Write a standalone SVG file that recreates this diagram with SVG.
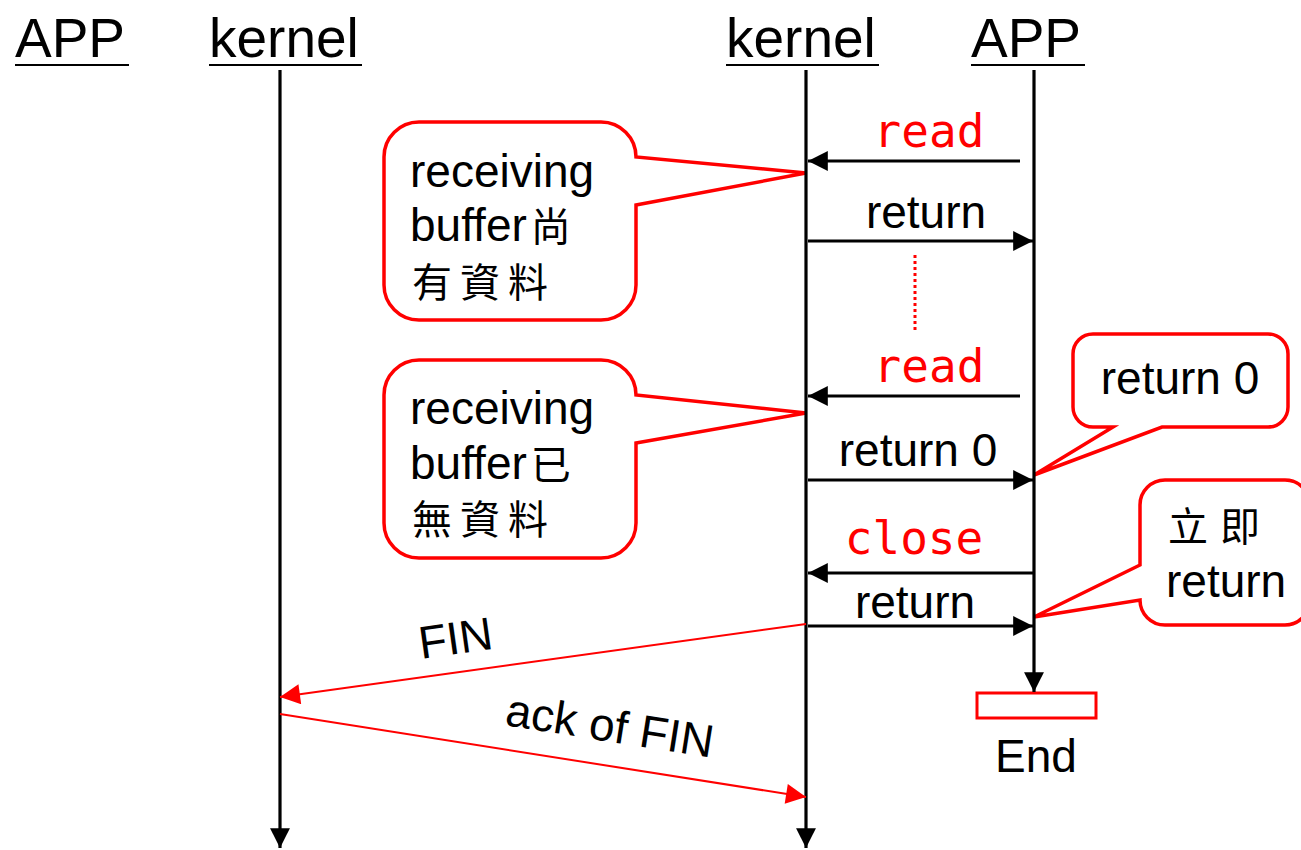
<svg xmlns="http://www.w3.org/2000/svg" width="1301" height="850" viewBox="0 0 1301 850">
  <style>
    .t { font-family: "Liberation Sans", Arial, sans-serif; fill: #000; }
    .hd { font-size: 55px; }
    .lb { font-size: 46px; }
    .cjk { font-family: "Noto Sans CJK TC", "Noto Sans CJK SC", sans-serif; font-size: 40px; fill: #000; }
    .mono { font-family: "DejaVu Sans Mono", "Liberation Mono", monospace; font-size: 46px; fill: #ff0000; }
    .life { stroke: #000; stroke-width: 3.2; fill: none; }
    .msg { stroke: #000; stroke-width: 3.2; fill: none; }
    .red { stroke: #ff0000; stroke-width: 2; fill: none; }
    .bubble { fill: #fff; stroke: #ff0000; stroke-width: 3.5; stroke-linejoin: miter; }
  </style>
  <defs>
    <marker id="ab" viewBox="0 0 10 10" refX="10" refY="5" markerWidth="7.5" markerHeight="6.2" markerUnits="strokeWidth" orient="auto">
      <path d="M0,0 L10,5 L0,10 Z" fill="#000"/>
    </marker>
    <marker id="ar" viewBox="0 0 10 10" refX="10" refY="5" markerWidth="11" markerHeight="10" markerUnits="strokeWidth" orient="auto">
      <path d="M0,0 L10,5 L0,10 Z" fill="#ff0000"/>
    </marker>
  </defs>

  <!-- participant headers -->
  <g id="app-left">
    <text class="t hd" x="15" y="57">APP</text>
    <line x1="15" y1="65" x2="129" y2="65" stroke="#000" stroke-width="2"/>
  </g>
  <g id="kernel-left">
    <text class="t hd" x="209" y="57">kernel</text>
    <line x1="209" y1="65" x2="362" y2="65" stroke="#000" stroke-width="2"/>
  </g>
  <g id="kernel-right">
    <text class="t hd" x="726" y="57">kernel</text>
    <line x1="726" y1="65" x2="879" y2="65" stroke="#000" stroke-width="2"/>
  </g>
  <g id="app-right">
    <text class="t hd" x="971" y="57">APP</text>
    <line x1="971" y1="65" x2="1085" y2="65" stroke="#000" stroke-width="2"/>
  </g>

  <!-- end marker of the right APP -->
  <g id="end">
    <rect x="977" y="693" width="119" height="25" fill="#fff" stroke="#ff0000" stroke-width="3"/>
    <text class="t lb" x="1036" y="772" text-anchor="middle">End</text>
  </g>

  <!-- callouts -->
  <g id="note-has-data">
    <path class="bubble" d="M419,122 H601 A35,35 0 0 1 636,157 L806,173 L636,205 V285 A35,35 0 0 1 601,320 H419 A35,35 0 0 1 384,285 V157 A35,35 0 0 1 419,122 Z"/>
    <text class="t lb" x="410" y="187">receiving</text>
    <text x="410" y="241"><tspan class="t lb">buffer</tspan><tspan class="cjk" dx="4">尚</tspan></text>
    <text class="cjk" x="412" y="297" letter-spacing="8">有資料</text>
  </g>
  <g id="note-no-data">
    <path class="bubble" d="M419,360 H601 A35,35 0 0 1 636,395 L806,413 L636,443 V523 A35,35 0 0 1 601,558 H419 A35,35 0 0 1 384,523 V395 A35,35 0 0 1 419,360 Z"/>
    <text class="t lb" x="410" y="424">receiving</text>
    <text x="410" y="479"><tspan class="t lb">buffer</tspan><tspan class="cjk" dx="4">已</tspan></text>
    <text class="cjk" x="412" y="534" letter-spacing="8">無資料</text>
  </g>
  <g id="note-return0">
    <path class="bubble" d="M1093,334 H1268 A20,20 0 0 1 1288,354 V407 A20,20 0 0 1 1268,427 H1162 L1034,475 L1113,427 H1093 A20,20 0 0 1 1073,407 V354 A20,20 0 0 1 1093,334 Z"/>
    <text class="t lb" x="1180" y="394" text-anchor="middle">return 0</text>
  </g>
  <g id="note-immediate">
    <path class="bubble" d="M1165,480 H1285 A25,25 0 0 1 1310,505 V600 A25,25 0 0 1 1285,625 H1165 A25,25 0 0 1 1140,600 L1034,617 L1140,565 V505 A25,25 0 0 1 1165,480 Z"/>
    <text class="cjk" x="1168" y="541" font-size="35" letter-spacing="12">立即</text>
    <text class="t lb" x="1166" y="597">return</text>
  </g>

  <!-- lifelines, messages and labels -->
  <g id="connectors">
    <line class="life" x1="280" y1="70" x2="280" y2="848" marker-end="url(#ab)"/>
    <line class="life" x1="806" y1="70" x2="806" y2="848" marker-end="url(#ab)"/>
    <line class="life" x1="1034" y1="70" x2="1034" y2="692" marker-end="url(#ab)"/>

    <line class="msg" x1="1020" y1="161" x2="808" y2="161" marker-end="url(#ab)"/>
    <text class="mono" x="929" y="147" text-anchor="middle">read</text>

    <line class="msg" x1="808" y1="241" x2="1033" y2="241" marker-end="url(#ab)"/>
    <text class="t lb" x="926" y="228" text-anchor="middle">return</text>

    <line x1="915" y1="255" x2="915" y2="333" stroke="#ff0000" stroke-width="3" stroke-dasharray="3,3"/>

    <line class="msg" x1="1020" y1="396" x2="808" y2="396" marker-end="url(#ab)"/>
    <text class="mono" x="929" y="382" text-anchor="middle">read</text>

    <line class="msg" x1="808" y1="480" x2="1033" y2="480" marker-end="url(#ab)"/>
    <text class="t lb" x="918" y="466" text-anchor="middle">return 0</text>

    <line class="msg" x1="1034" y1="573" x2="808" y2="573" marker-end="url(#ab)"/>
    <text class="mono" x="914" y="554" text-anchor="middle">close</text>

    <line class="msg" x1="808" y1="626" x2="1033" y2="626" marker-end="url(#ab)"/>
    <text class="t lb" x="915" y="618" text-anchor="middle">return</text>

    <line class="red" x1="806" y1="624" x2="280" y2="697" marker-end="url(#ar)"/>
    <text class="t lb" transform="translate(421,659) rotate(-8)">FIN</text>

    <line class="red" x1="280" y1="714" x2="806" y2="797" marker-end="url(#ar)"/>
    <text class="t lb" transform="translate(504,725) rotate(9)">ack of FIN</text>
  </g>
</svg>
